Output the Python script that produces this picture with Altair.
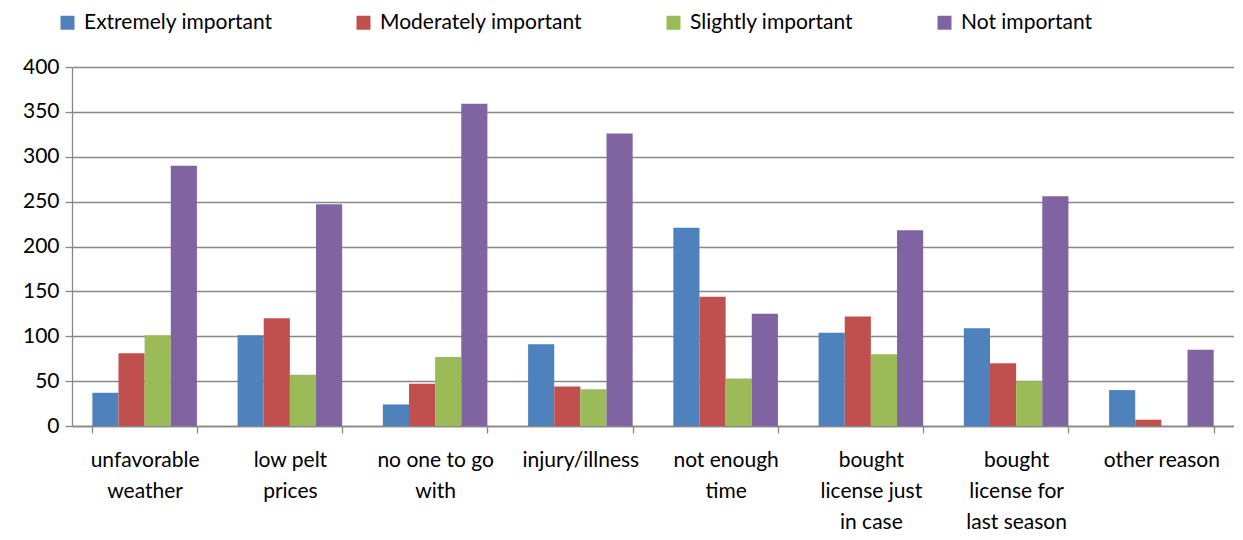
import altair as alt
import pandas as pd

categories = [
    "unfavorable|weather",
    "low pelt|prices",
    "no one to go|with",
    "injury/illness",
    "not enough|time",
    "bought|license just|in case",
    "bought|license for|last season",
    "other reason",
]
series = ["Extremely important", "Moderately important", "Slightly important", "Not important"]
extremely = [37, 101, 24, 91, 221, 104, 109, 40]
moderately = [81, 120, 47, 44, 144, 122, 70, 7]
slightly = [101, 57, 77, 41, 53, 80, 50, 0]
not_important = [290, 247, 359, 326, 125, 218, 256, 85]
colors = ["#4F81BD", "#C0504D", "#9BBB59", "#8064A2"]

rows = []
for s, vals in zip(series, [extremely, moderately, slightly, not_important]):
    for c, v in zip(categories, vals):
        rows.append({"reason": c, "series": s, "value": v})
df = pd.DataFrame(rows)

FONT = "Lato"

chart = alt.Chart(df).mark_bar().encode(
    x=alt.X(
        "reason:N",
        sort=categories,
        title=None,
        scale=alt.Scale(paddingInner=0.28, paddingOuter=0.14),
        axis=alt.Axis(
            labelExpr="split(datum.label, '|')",
            labelAngle=0,
            labelFont=FONT,
            labelFontSize=21,
            labelColor="#000000",
            labelLineHeight=31,
            labelPadding=16,
            labelLimit=300,
            tickBand="extent",
            tickSize=7,
            tickColor="#888888",
            tickWidth=1.3,
            domainColor="#888888",
            domainWidth=1.3,
            grid=False,
        ),
    ),
    xOffset=alt.XOffset("series:N", sort=series),
    y=alt.Y(
        "value:Q",
        title=None,
        scale=alt.Scale(domain=[0, 400], nice=False),
        axis=alt.Axis(
            values=[0, 50, 100, 150, 200, 250, 300, 350, 400],
            labelFont=FONT,
            labelFontSize=21,
            labelColor="#000000",
            labelPadding=6,
            tickSize=7,
            tickColor="#888888",
            tickWidth=1.3,
            domainColor="#888888",
            domainWidth=1.3,
            gridColor="#888888",
            gridWidth=1.3,
        ),
    ),
    color=alt.Color(
        "series:N",
        sort=series,
        scale=alt.Scale(domain=series, range=colors),
        legend=alt.Legend(
            title=None,
            orient="none",
            legendX=-15,
            legendY=-55,
            direction="horizontal",
            columns=4,
            columnPadding=80,
            symbolType="square",
            symbolSize=196,
            symbolStrokeWidth=0,
            labelFont=FONT,
            labelFontSize=21,
            labelColor="#000000",
            labelLimit=400,
            labelOffset=6,
        ),
    ),
).properties(
    width=1162,
    height=359,
    autosize=alt.AutoSizeParams(type="none"),
    padding={"left": 64, "top": 59, "right": 0, "bottom": 106},
).configure_view(stroke=None)

chart.save("out.html", embed_options={"renderer": "svg", "actions": False})
